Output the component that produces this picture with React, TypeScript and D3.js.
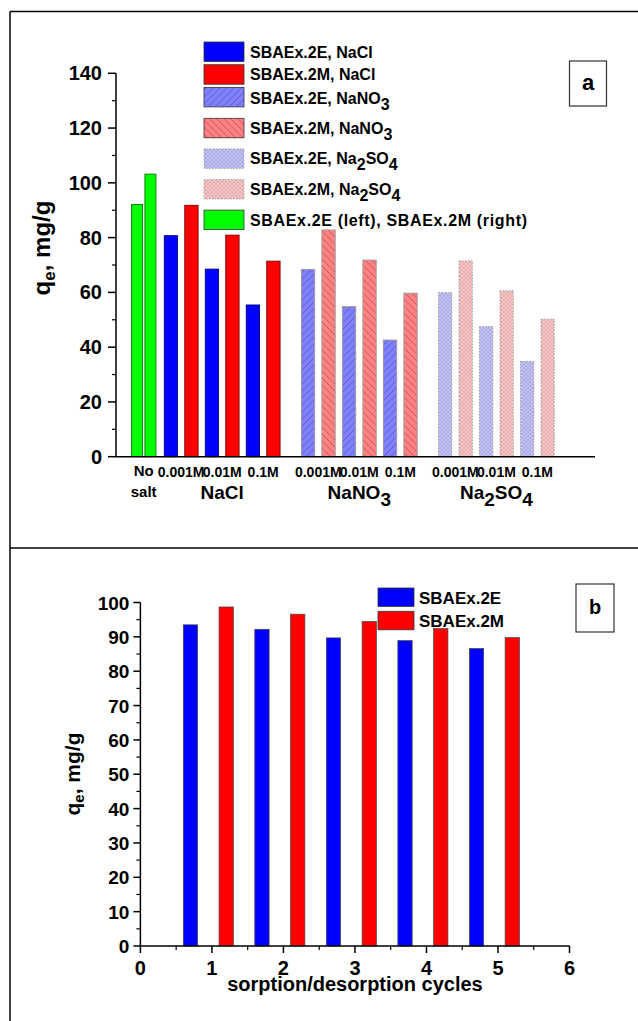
import React from "react";
import * as d3 from "d3";

// panel a: adsorption capacity vs background salt
const noSaltValues = [92.1, 103.2]; // SBAEx.2E (left), SBAEx.2M (right)
const saltNames = ["NaCl", "NaNO3", "Na2SO4"];
const concLabels = ["0.001M", "0.01M", "0.1M"];
const e2SaltValues = [
  [80.7, 68.5, 55.4],
  [68.4, 54.8, 42.6],
  [59.9, 47.5, 34.8],
];
const m2SaltValues = [
  [91.8, 80.9, 71.4],
  [82.8, 71.8, 59.7],
  [71.5, 60.6, 50.2],
];
const yTicksA = [0, 20, 40, 60, 80, 100, 120, 140];

// panel b: reuse cycles
const cycles = [1, 2, 3, 4, 5];
const e2Cycle = [93.5, 92.2, 89.7, 88.9, 86.6];
const m2Cycle = [98.7, 96.6, 94.5, 92.4, 89.8];
const yTicksB = [0, 10, 20, 30, 40, 50, 60, 70, 80, 90, 100];
const xTicksB = [0, 1, 2, 3, 4, 5, 6];

const FONT = "'Liberation Sans', Arial, sans-serif";

// fills for each salt / sample
const e2Fills = ["#0000ff", "url(#hatchE)", "url(#crossE)"];
const m2Fills = ["#ff0000", "url(#hatchM)", "url(#crossM)"];
const e2Strokes = ["#00007a", "#9a9a9a", "#9a9a9a"];
const m2Strokes = ["#7a0000", "#9a9a9a", "#9a9a9a"];

const legendA = [
  { label: "SBAEx.2E, NaCl", fill: "#0000ff" },
  { label: "SBAEx.2M, NaCl", fill: "#ff0000" },
  { label: "SBAEx.2E, NaNO3", fill: "url(#hatchE)" },
  { label: "SBAEx.2M, NaNO3", fill: "url(#hatchM)" },
  { label: "SBAEx.2E, Na2SO4", fill: "url(#crossE)" },
  { label: "SBAEx.2M, Na2SO4", fill: "url(#crossM)" },
  { label: "SBAEx.2E (left), SBAEx.2M (right)", fill: "#00ff00" },
];

// chemical formulas: a digit right after a letter is a subscript
function Formula({ text, sub }: { text: string; sub: number }) {
  const parts = text.split(/(?<=[A-Za-z])(\d)/).filter((p) => p !== "");
  let down = false;
  return (
    <>
      {parts.map((p, i) => {
        const isSub = /^\d$/.test(p) && i > 0 && /[A-Za-z]$/.test(parts[i - 1]);
        const dy = isSub ? (down ? 0 : sub) : down ? -sub : 0;
        down = isSub;
        return (
          <tspan key={i} dy={dy}>
            {p}
          </tspan>
        );
      })}
    </>
  );
}

function PanelA() {
  const x = d3.scaleLinear().domain([0, 23.37]).range([116, 595]);
  const y = d3.scaleLinear().domain([0, 140]).range([456.7, 73.3]);
  const bw = 0.65;
  const groupStart = (g: number) => 2.68 + g * 6.69;
  const minor = d3.range(10, 140, 20);

  const bars: React.ReactNode[] = [];
  noSaltValues.forEach((v, i) => {
    const c = 1.03 + i * 0.65;
    bars.push(
      <rect key={"ns" + i} x={x(c - 0.27)} y={y(v)} width={x(0.54) - x(0)}
        height={y(0) - y(v)} fill="#00ff00" stroke="#006a00" strokeWidth={0.8} />
    );
  });
  saltNames.forEach((s, g) => {
    concLabels.forEach((cl, c) => {
      [e2SaltValues[g][c], m2SaltValues[g][c]].forEach((v, k) => {
        const center = groupStart(g) + c * 2 + k;
        bars.push(
          <rect key={`${g}-${c}-${k}`} x={x(center - bw / 2)} y={y(v)}
            width={x(bw) - x(0)} height={y(0) - y(v)}
            fill={k === 0 ? e2Fills[g] : m2Fills[g]}
            stroke={k === 0 ? e2Strokes[g] : m2Strokes[g]}
            strokeWidth={0.9}
            strokeDasharray={g === 2 ? "1.5,1.5" : undefined} />
        );
      });
    });
  });

  return (
    <g fontFamily={FONT} fontWeight="bold">
      {bars}
      {/* axes */}
      <line x1={116} x2={116} y1={y(140)} y2={y(0)} stroke="#000" strokeWidth={1.5} />
      <line x1={116} x2={595} y1={y(0)} y2={y(0)} stroke="#000" strokeWidth={1.5} />
      {yTicksA.map((t) => (
        <g key={t}>
          <line x1={108} x2={116} y1={y(t)} y2={y(t)} stroke="#000" strokeWidth={1.5} />
          <text x={102} y={y(t) + 7} textAnchor="end" fontSize={20}>{t}</text>
        </g>
      ))}
      {minor.map((t) => (
        <line key={t} x1={112} x2={116} y1={y(t)} y2={y(t)} stroke="#000" strokeWidth={1.2} />
      ))}
      <text transform={`translate(50,248) rotate(-90)`} textAnchor="middle" fontSize={24}>
        q<tspan fontSize={17} dy={5}>e</tspan><tspan dy={-5}>, mg/g</tspan>
      </text>
      {/* category labels */}
      <text x={x(1.35)} y={476} textAnchor="middle" fontSize={15}>No</text>
      <text x={x(1.35)} y={496.7} textAnchor="middle" fontSize={15}>salt</text>
      {saltNames.map((s, g) => (
        <g key={s}>
          {concLabels.map((cl, c) => (
            <text key={cl} x={x(groupStart(g) + c * 2 + 0.5)} y={477}
              textAnchor="middle" fontSize={14}>{cl}</text>
          ))}
          <text x={x(groupStart(g) + 2.5)} y={499} textAnchor="middle" fontSize={19}>
            <Formula text={s} sub={7} />
          </text>
        </g>
      ))}
      {/* legend */}
      {legendA.map((l, i) => {
        const top = i < 3 ? 42 + i * 22.7 : 118.3 + (i - 3) * 30.6;
        return (
          <g key={l.label}>
            <rect x={204} y={top} width={40} height={19.5} fill={l.fill}
              stroke={i === 4 || i === 5 ? "#999" : "#333"} strokeWidth={0.8}
              strokeDasharray={i === 4 || i === 5 ? "1.5,1.5" : undefined} />
            <text x={250} y={top + 15.5 + (i === 2 ? 1.5 : 0)} fontSize={16}
              textLength={i === 6 ? 277 : undefined}>
              <Formula text={l.label} sub={6} />
            </text>
          </g>
        );
      })}
      <rect x={569.5} y={61} width={37} height={45} fill="#fff" stroke="#333" strokeWidth={1.2} />
      <text x={588} y={89.5} textAnchor="middle" fontSize={22}>a</text>
    </g>
  );
}

function PanelB() {
  const x = d3.scaleLinear().domain([0, 6]).range([140.4, 569.5]);
  const y = d3.scaleLinear().domain([0, 100]).range([946, 602.5]);
  const bw = x(0.2) - x(0);
  const minorY = d3.range(5, 100, 10);
  const minorX = d3.range(0.5, 6, 1);

  return (
    <g fontFamily={FONT} fontWeight="bold">
      {cycles.map((c, i) => (
        <g key={c}>
          <rect x={x(c - 0.4)} y={y(e2Cycle[i])} width={bw} height={y(0) - y(e2Cycle[i])}
            fill="#0000ff" stroke="#444" strokeWidth={0.7} />
          <rect x={x(c + 0.1)} y={y(m2Cycle[i])} width={bw} height={y(0) - y(m2Cycle[i])}
            fill="#ff0000" stroke="#444" strokeWidth={0.7} />
        </g>
      ))}
      <line x1={x(0)} x2={x(0)} y1={y(100)} y2={y(0)} stroke="#000" strokeWidth={1.5} />
      <line x1={x(0)} x2={x(6)} y1={y(0)} y2={y(0)} stroke="#000" strokeWidth={1.5} />
      {yTicksB.map((t) => (
        <g key={t}>
          <line x1={x(0) - 7} x2={x(0)} y1={y(t)} y2={y(t)} stroke="#000" strokeWidth={1.5} />
          <text x={x(0) - 11} y={y(t) + 7} textAnchor="end" fontSize={19}>{t}</text>
        </g>
      ))}
      {minorY.map((t) => (
        <line key={t} x1={x(0) - 4} x2={x(0)} y1={y(t)} y2={y(t)} stroke="#000" strokeWidth={1.2} />
      ))}
      {xTicksB.map((t) => (
        <g key={t}>
          <line x1={x(t)} x2={x(t)} y1={y(0)} y2={y(0) + 7} stroke="#000" strokeWidth={1.5} />
          <text x={x(t)} y={975} textAnchor="middle" fontSize={20}>{t}</text>
        </g>
      ))}
      {minorX.map((t) => (
        <line key={t} x1={x(t)} x2={x(t)} y1={y(0)} y2={y(0) + 4} stroke="#000" strokeWidth={1.2} />
      ))}
      <text x={(x(0) + x(6)) / 2} y={991} textAnchor="middle" fontSize={20}>
        sorption/desorption cycles
      </text>
      <text transform={`translate(80,774) rotate(-90)`} textAnchor="middle" fontSize={21}>
        q<tspan fontSize={15} dy={4}>e</tspan><tspan dy={-4}>, mg/g</tspan>
      </text>
      {/* legend */}
      {["SBAEx.2E", "SBAEx.2M"].map((l, i) => (
        <g key={l}>
          <rect x={378} y={588 + i * 23.3} width={36} height={18.5}
            fill={i === 0 ? "#0000ff" : "#ff0000"} stroke="#333" strokeWidth={0.8} />
          <text x={419} y={604 + i * 22.7} fontSize={17}>{l}</text>
        </g>
      ))}
      <rect x={576} y={584} width={38} height={48} fill="#fff" stroke="#333" strokeWidth={1.2} />
      <text x={595} y={613.5} textAnchor="middle" fontSize={20}>b</text>
    </g>
  );
}

export default function App() {
  return (
    <svg width={638} height={1021} style={{ position: "absolute", left: 0, top: 0 }}>
      <defs>
        <pattern id="hatchE" patternUnits="userSpaceOnUse" width={7} height={7}>
          <rect width={7} height={7} fill="#8080ff" />
          <path d="M0,7 L7,0 M-1,1 L1,-1 M6,8 L8,6" stroke="#5a5aa8" strokeWidth={0.8} />
        </pattern>
        <pattern id="hatchM" patternUnits="userSpaceOnUse" width={7} height={7}>
          <rect width={7} height={7} fill="#ff8080" />
          <path d="M0,0 L7,7 M-1,6 L1,8 M6,-1 L8,1" stroke="#a85a5a" strokeWidth={0.8} />
        </pattern>
        <pattern id="crossE" patternUnits="userSpaceOnUse" width={4} height={4}>
          <rect width={4} height={4} fill="#c4c4f4" />
          <path d="M0,0 L4,4 M0,4 L4,0" stroke="#9a9ad8" strokeWidth={0.6} />
        </pattern>
        <pattern id="crossM" patternUnits="userSpaceOnUse" width={4} height={4}>
          <rect width={4} height={4} fill="#f6c8c8" />
          <path d="M0,0 L4,4 M0,4 L4,0" stroke="#d89a9a" strokeWidth={0.6} />
        </pattern>
      </defs>
      <rect width={638} height={1021} fill="#fff" />
      {/* page frame */}
      <line x1={10} x2={638} y1={11.5} y2={11.5} stroke="#000" strokeWidth={1.5} />
      <line x1={10} x2={10} y1={11.5} y2={1021} stroke="#000" strokeWidth={1.5} />
      <line x1={10} x2={638} y1={548} y2={548} stroke="#000" strokeWidth={1.5} />
      <PanelA />
      <PanelB />
    </svg>
  );
}
